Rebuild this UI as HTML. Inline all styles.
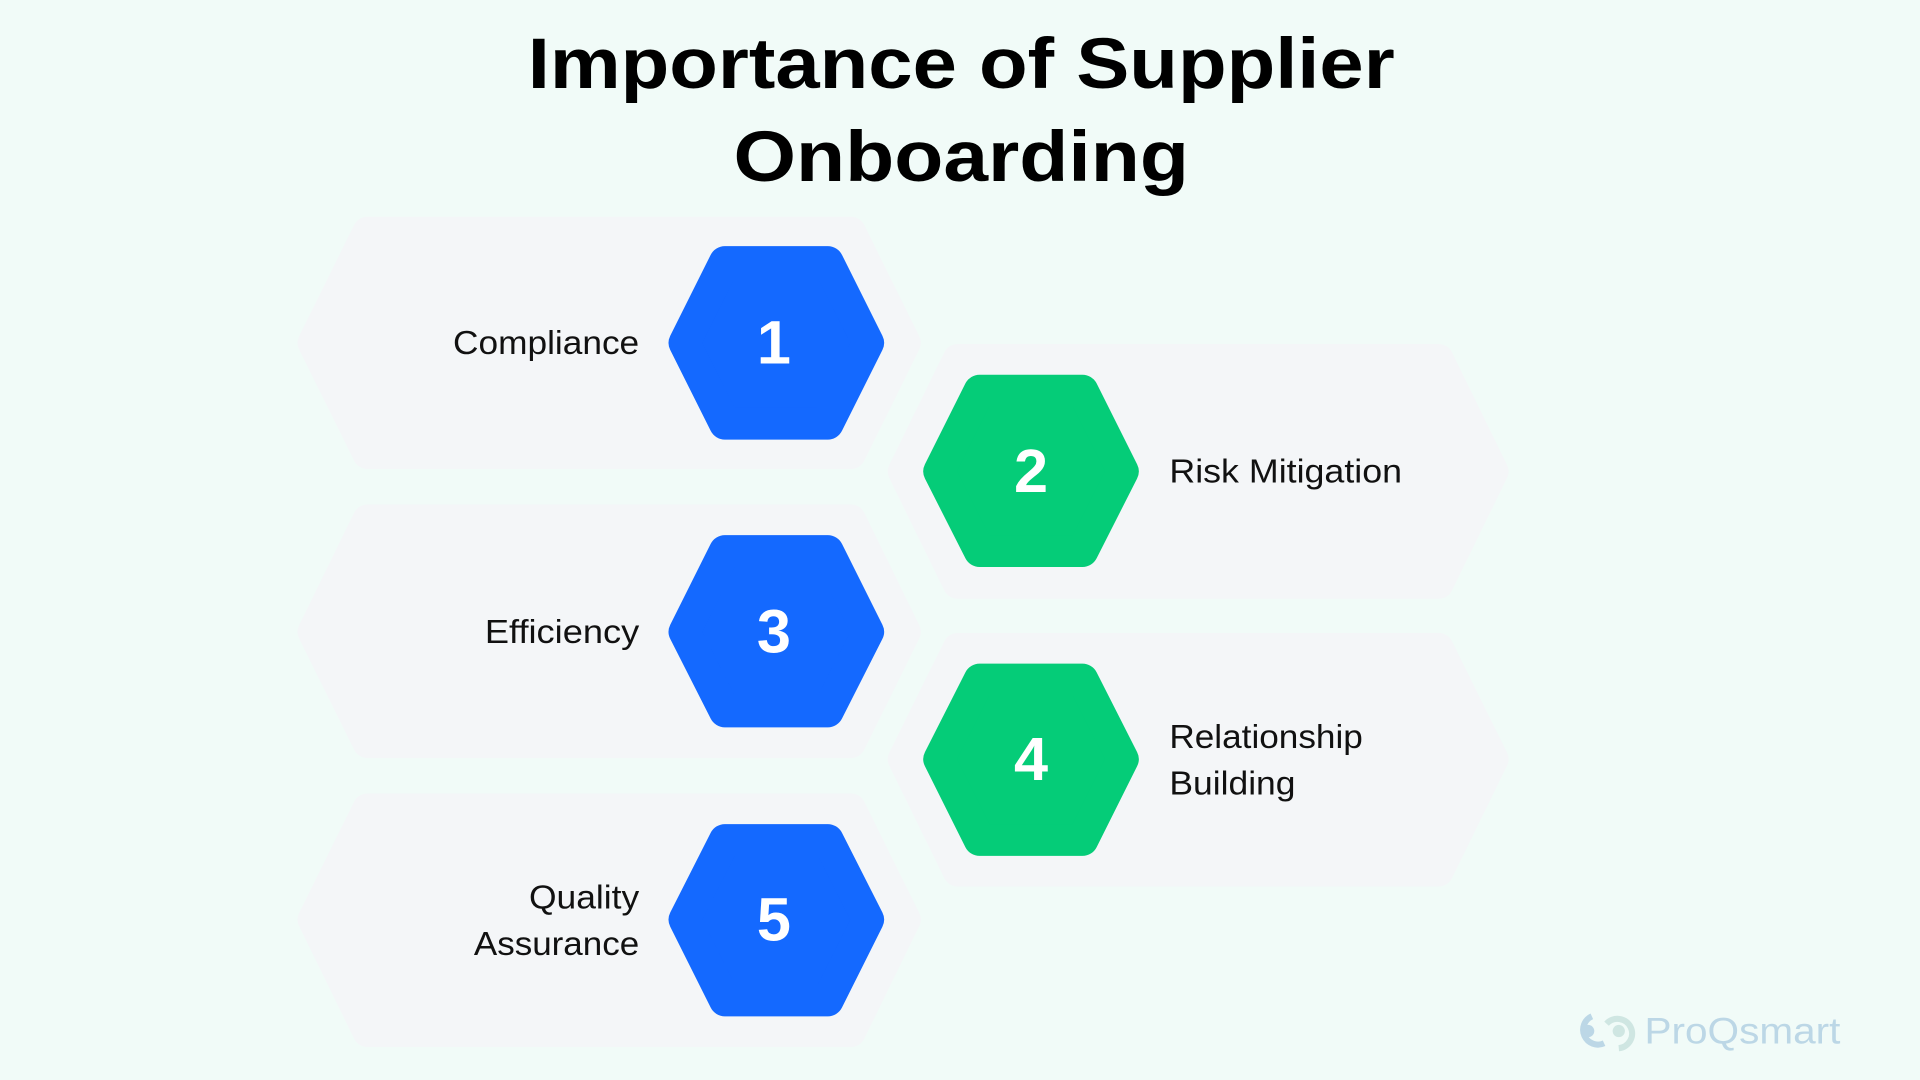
<!DOCTYPE html>
<html><head><meta charset="utf-8"><style>
html,body{margin:0;padding:0;background:#f1fbf8;}
svg{display:block}
text{font-family:"Liberation Sans",sans-serif}
</style></head><body>
<svg width="1920" height="1080" viewBox="0 0 1568 882" xmlns="http://www.w3.org/2000/svg">
<rect width="1568" height="882" fill="#f1fbf8"/>
<text x="785" y="72" text-anchor="middle" font-size="58" font-weight="bold" fill="#000" textLength="708" lengthAdjust="spacingAndGlyphs">Importance of Supplier</text>
<text x="785" y="148" text-anchor="middle" font-size="58" font-weight="bold" fill="#000" textLength="372" lengthAdjust="spacingAndGlyphs">Onboarding</text>
<g fill="#f4f6f8" stroke="#f4f6f8" stroke-width="24" stroke-linejoin="round">
<polygon points="255,280 300,189 695,189 740,280 695,371 300,371"/>
<polygon points="255,516 300,424 695,424 740,516 695,607 300,607"/>
<polygon points="255,751 300,660 695,660 740,751 695,843 300,843"/>
<polygon points="737,385 782,293 1175,293 1220,385 1175,477 782,477"/>
<polygon points="737,620 782,529 1175,529 1220,620 1175,712 782,712"/>
</g>
<g stroke-width="26" stroke-linejoin="round">
<polygon fill="#1469ff" stroke="#1469ff" points="559,280 592,214 676,214 709,280 676,346 592,346"/>
<polygon fill="#1469ff" stroke="#1469ff" points="559,516 592,450 676,450 709,516 676,581 592,581"/>
<polygon fill="#1469ff" stroke="#1469ff" points="559,751 592,686 676,686 709,751 676,817 592,817"/>
<polygon fill="#05cc78" stroke="#05cc78" points="767,385 800,319 884,319 917,385 884,450 800,450"/>
<polygon fill="#05cc78" stroke="#05cc78" points="767,620 800,555 884,555 917,620 884,686 800,686"/>
</g>
<g fill="#fff" font-size="50" font-weight="bold" text-anchor="middle">
<text x="632" y="297">1</text>
<text x="842" y="402">2</text>
<text x="632" y="533">3</text>
<text x="842" y="637">4</text>
<text x="632" y="768">5</text>
</g>
<g fill="#111" font-size="27">
<text x="370" y="289" textLength="152" lengthAdjust="spacingAndGlyphs">Compliance</text>
<text x="396" y="525" textLength="126" lengthAdjust="spacingAndGlyphs">Efficiency</text>
<text x="432" y="742" textLength="90" lengthAdjust="spacingAndGlyphs">Quality</text>
<text x="387" y="780" textLength="135" lengthAdjust="spacingAndGlyphs">Assurance</text>
<text x="955" y="394" textLength="190" lengthAdjust="spacingAndGlyphs">Risk Mitigation</text>
<text x="955" y="611" textLength="158" lengthAdjust="spacingAndGlyphs">Relationship</text>
<text x="955" y="649" textLength="103" lengthAdjust="spacingAndGlyphs">Building</text>
</g>
<g>
<path d="M1300,830 A12,12 0 1 0 1310,852" fill="none" stroke="#bcd7e6" stroke-width="5"/>
<circle cx="1297" cy="842" r="5" fill="#bcd7e6"/>
<path d="M1312,836 A12,12 0 1 1 1322,856" fill="none" stroke="#cfe6e2" stroke-width="5"/>
<circle cx="1322" cy="842" r="5" fill="#cfe6e2"/>
<text x="1343" y="852" font-size="30" fill="#bcd7e6" textLength="160" lengthAdjust="spacingAndGlyphs">ProQsmart</text>
</g>
</svg>
</body></html>
